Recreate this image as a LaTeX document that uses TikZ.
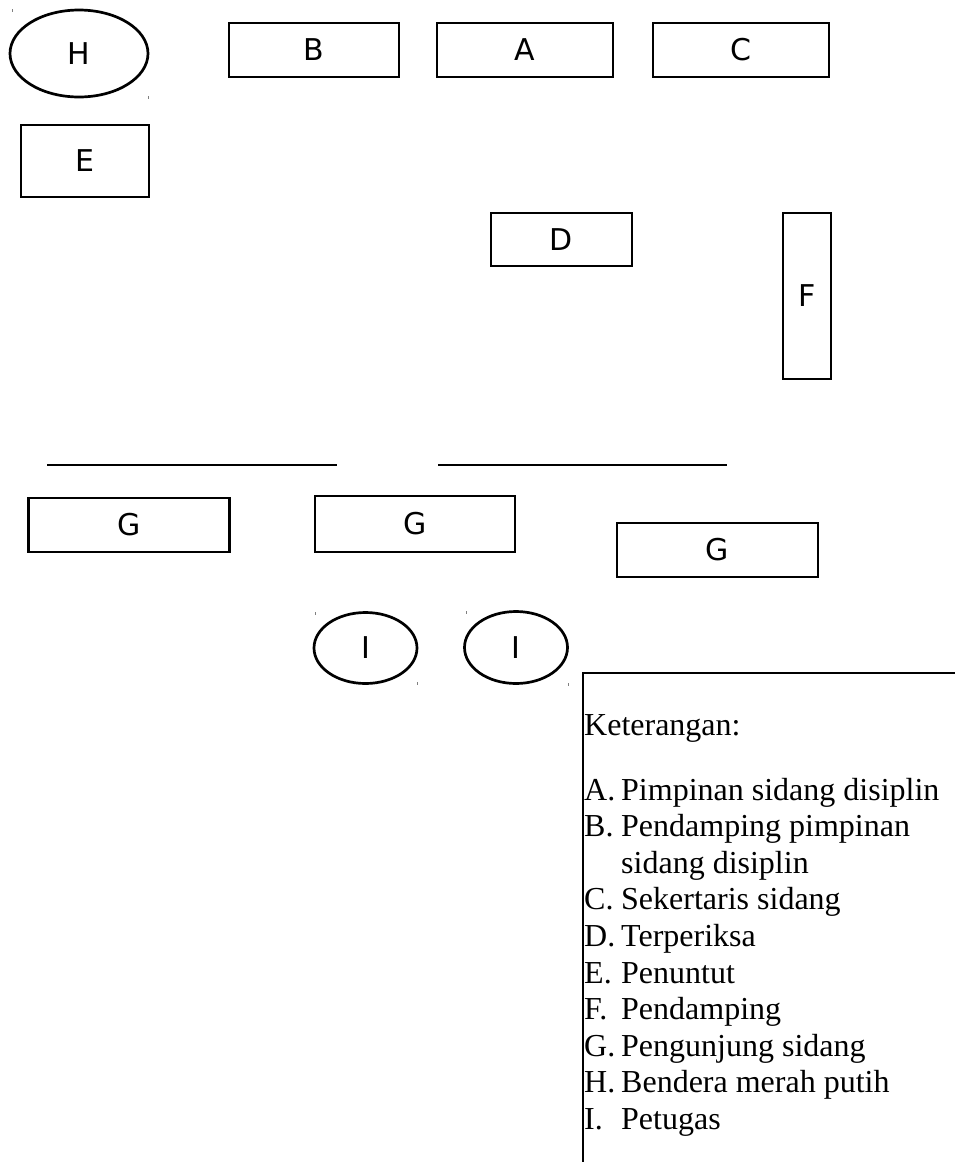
\documentclass[tikz,border=0pt]{standalone}
\usepackage{fontspec}
\setmainfont{Liberation Serif}
\newfontfamily\boxfont{DejaVu Sans}
\usetikzlibrary{shapes.geometric}
\begin{document}
\begin{tikzpicture}[x=1pt,y=-1pt]
\tikzstyle{seat}=[draw,rectangle,line width=2.7pt,inner sep=0pt,font=\boxfont\fontsize{30}{36}\selectfont]
\tikzstyle{oval}=[draw,ellipse,line width=2.7pt,inner sep=0pt,font=\boxfont\fontsize{30}{36}\selectfont]
\tikzstyle{tick}=[black!50,line width=0.8pt]
\tikzstyle{ket}=[anchor=base west,inner sep=0pt,font=\fontsize{32}{32}\selectfont]
\useasboundingbox (0,0) rectangle (955,1162);

% tables and seats
\foreach \n/\x/\y/\w/\h/\lbl in {b/314/50/170/54/B,a/525/50/176/54/A,c/741/50/176/54/C,
  e/85/161/128/72/E,d/561.5/239.5/141/53/D,f/807/296/48/166/F,
  g1/129/525/201/54/G,g2/415/524/200/56/G,g3/717.5/550/201/54/G} {
  \node[seat,minimum width=\w,minimum height=\h] (\n) at (\x,\y) {\lbl};
}

% flag and officers
\foreach \n/\x/\y/\w/\h/\lbl in {h/79/53.5/138/87/H,i1/365.5/648/103/71/I,i2/516/647.5/103/72/I} {
  \node[oval,minimum width=\w,minimum height=\h] (\n) at (\x,\y) {\lbl};
}
\foreach \x/\y in {12/9,148/96,315/612,417/682,466/611,568/683}
  \draw[tick] (\x,\y) -- ++(0,3);

% barrier lines
\draw[line width=1.5pt] (47,465) -- (337,465);
\draw[line width=1.5pt] (438,465) -- (727,465);

% legend
\draw[line width=2.7pt] (956,673) -| (583,1163);
\node[ket] (ket) at (584,735) {Keterangan:};
\foreach \n/\lbl/\txt in {0/A./Pimpinan sidang disiplin,1/B./Pendamping pimpinan,2//sidang disiplin,
  3/C./Sekertaris sidang,4/D./Terperiksa,5/E./Penuntut,6/F./Pendamping,
  7/G./Pengunjung sidang,8/H./Bendera merah putih,9/I./Petugas} {
  \node[ket] (l\n) at (584,{800+36.6*\n}) {\lbl};
  \node[ket] (t\n) at (621,{800+36.6*\n}) {\txt};
}
\end{tikzpicture}
\end{document}
